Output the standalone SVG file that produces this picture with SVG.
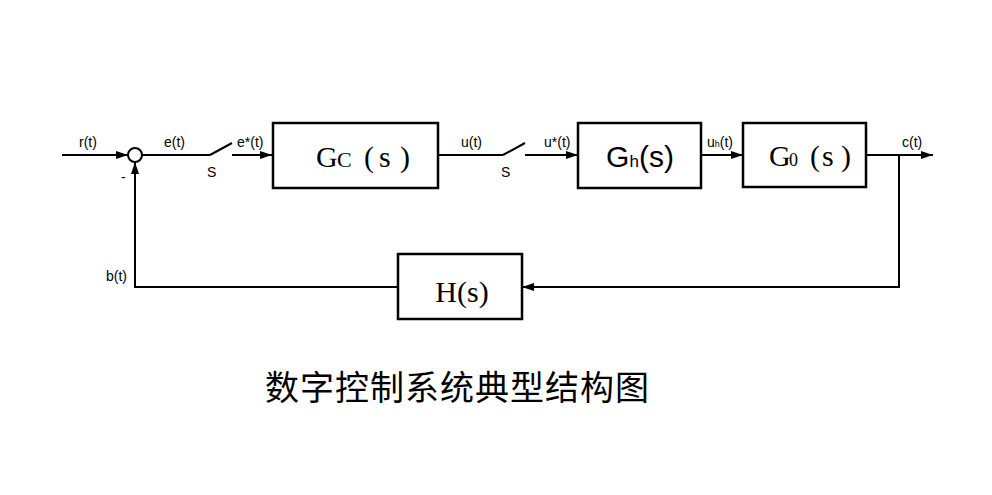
<svg xmlns="http://www.w3.org/2000/svg" width="992" height="495" viewBox="0 0 992 495">
<defs>
<style>
.ln{stroke:#000;stroke-width:2;fill:none}
.bx{stroke:#000;stroke-width:2.5;fill:#fff}
.lb{font-family:"Liberation Sans",Arial,sans-serif;font-size:14px;fill:#000}
.sf{font-family:"Liberation Serif","Times New Roman",serif;font-size:30px;fill:#000}
.ss{font-family:"Liberation Sans",Arial,sans-serif;font-size:30px;fill:#000}
.ti{font-family:"Noto Sans CJK SC","Liberation Serif",serif;font-size:34px;letter-spacing:1px;fill:#000}
</style>
<marker id="ar" viewBox="0 0 12 8" refX="12" refY="4" markerWidth="12" markerHeight="8" markerUnits="userSpaceOnUse" orient="auto">
<path d="M0,0 L12,4 L0,8 Z" fill="#000"/>
</marker>
</defs>
<rect width="992" height="495" fill="#fff"/>
<g id="connectors">
<line class="ln" x1="62" y1="155" x2="128" y2="155" marker-end="url(#ar)"/>
<line class="ln" x1="142" y1="155" x2="210" y2="155"/>
<line class="ln" x1="210" y1="155" x2="232" y2="143"/>
<line class="ln" x1="232" y1="155" x2="272" y2="155" marker-end="url(#ar)"/>
<line class="ln" x1="438" y1="155" x2="503" y2="155"/>
<line class="ln" x1="503" y1="155" x2="525" y2="143"/>
<line class="ln" x1="525" y1="155" x2="578" y2="155" marker-end="url(#ar)"/>
<line class="ln" x1="701" y1="155" x2="743" y2="155" marker-end="url(#ar)"/>
<line class="ln" x1="866" y1="155" x2="933" y2="155" marker-end="url(#ar)"/>
<polyline class="ln" points="899,155 899,287 522,287" marker-end="url(#ar)"/>
<polyline class="ln" points="398,287 135,287 135,162" marker-end="url(#ar)"/>
</g>
<g id="sum">
<circle cx="135" cy="155" r="7" fill="#fff" stroke="#000" stroke-width="2"/>
<text class="lb" x="121" y="182">-</text>
</g>
<g id="Gc">
<rect class="bx" x="273" y="123" width="165" height="65"/>
<text class="sf" y="167"><tspan x="316">G</tspan><tspan x="337" font-size="22">C</tspan><tspan x="364">(</tspan><tspan x="379">s</tspan><tspan x="400">)</tspan></text>
</g>
<g id="Gh">
<rect class="bx" x="578" y="123" width="123" height="65"/>
<text class="ss" x="640" y="167" text-anchor="middle">G<tspan font-size="17">h</tspan>(s)</text>
</g>
<g id="G0">
<rect class="bx" x="743" y="123" width="123" height="64"/>
<text class="sf" y="166"><tspan x="769">G</tspan><tspan x="789" font-size="18">0</tspan><tspan x="810">(</tspan><tspan x="822">s</tspan><tspan x="841">)</tspan></text>
</g>
<g id="H">
<rect class="bx" x="398" y="254" width="124" height="65"/>
<text class="sf" x="462" y="302" text-anchor="middle">H(s)</text>
</g>
<g id="labels">
<text class="lb" x="79" y="147">r(t)</text>
<text class="lb" x="164" y="147">e(t)</text>
<text class="lb" x="237" y="147">e*(t)</text>
<text class="lb" x="207" y="177">S</text>
<text class="lb" x="461" y="147">u(t)</text>
<text class="lb" x="544" y="147">u*(t)</text>
<text class="lb" x="501" y="177">S</text>
<text class="lb" x="707" y="147"><tspan>u</tspan><tspan font-size="9">h</tspan><tspan>(t)</tspan></text>
<text class="lb" x="902" y="147">c(t)</text>
<text class="lb" x="106" y="281">b(t)</text>
</g>
<text class="ti" x="265" y="400">数字控制系统典型结构图</text>
</svg>
